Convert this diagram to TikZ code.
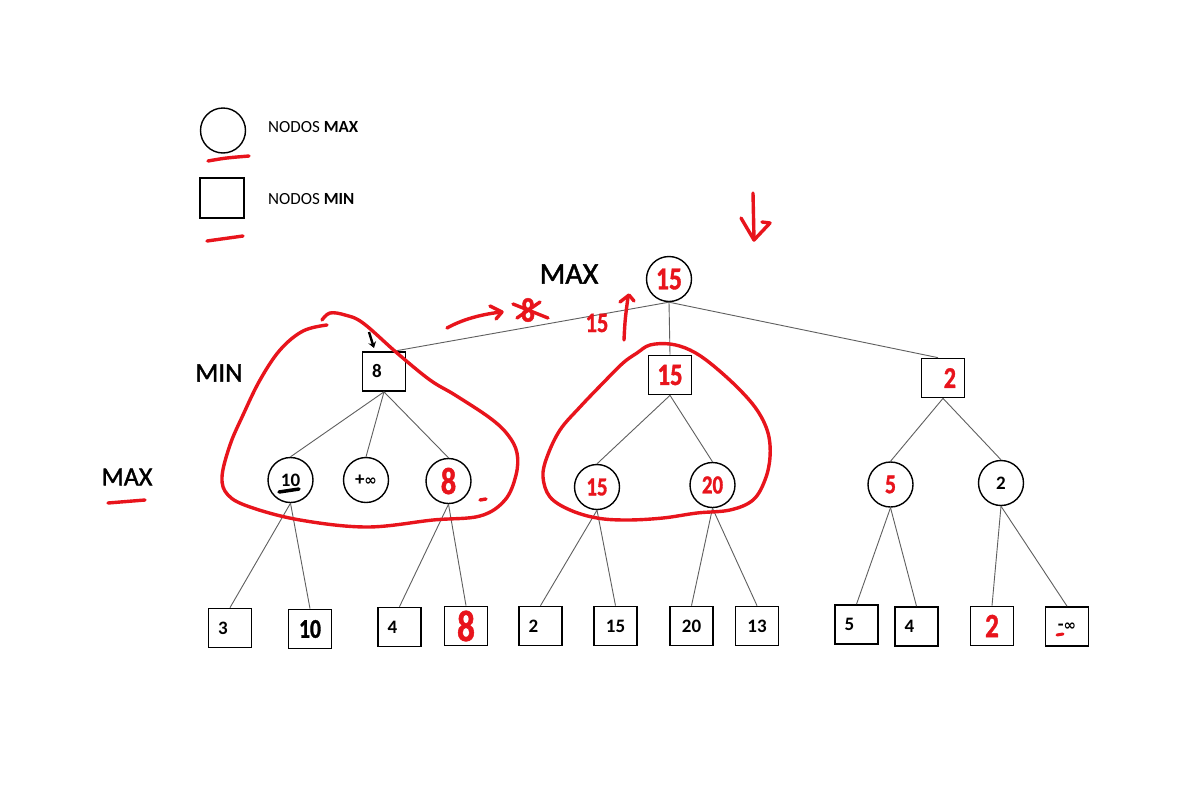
\documentclass[tikz,border=0pt]{standalone}
\usepackage{fontspec}
\setmainfont{Carlito}
\newfontfamily\handfont[FakeStretch=0.8,FakeBold=1.2]{Carlito}
\newfontfamily\labelfont[FakeBold=1.5]{Carlito}
\newfontfamily\symfont{DejaVu Sans}
\usetikzlibrary{arrows.meta}
\definecolor{hred}{HTML}{E8141C}
\definecolor{edgegray}{HTML}{5F5F5F}
\tikzset{
  maxnode/.style={circle, draw=black, line width=1.4pt, minimum size=45pt, inner sep=0pt,
    font=\fontsize{19}{21}\selectfont\bfseries},
  minnode/.style={rectangle, draw=black, line width=1.7pt, minimum width=43pt, minimum height=39pt,
    inner sep=0pt, font=\fontsize{19}{21}\selectfont\bfseries},
  lefttext/.style={text width=24pt, align=left},
  righttext/.style={text width=26pt, align=right},
  edgeline/.style={draw=edgegray, line width=0.9pt},
  redhand/.style={text=hred, font=\handfont\bfseries\fontsize{#1}{#1}\selectfont},
  blackhand/.style={text=black, font=\handfont\bfseries\fontsize{#1}{#1}\selectfont},
  handlabel/.style={text=black, inner sep=0pt, font=\labelfont\fontsize{#1}{#1}\selectfont},
  legendtext/.style={anchor=west, inner sep=0pt, font=\fontsize{17}{20}\selectfont},
  hstroke/.style={hred, line width=3.4pt, line cap=round, line join=round},
}
\begin{document}
\begin{tikzpicture}[x=1pt,y=-1pt]
\fill[white] (0,0) rectangle (1204,790);
\useasboundingbox (0,0) rectangle (1204,790);

% legend
\node[maxnode] (lgmax) at (223,130.5) {};
\node[minnode, minimum width=44pt, minimum height=40pt] (lgmin) at (222,198) {};
\node[legendtext] (lgmaxt) at (268,127) {NODOS \textbf{MAX}};
\node[legendtext] (lgmint) at (268,199) {NODOS \textbf{MIN}};
\draw[hstroke] (208,161) .. controls (225,158) .. (249,156);
\draw[hstroke] (207,241) .. controls (225,238) .. (243,236);

% tree nodes
\node[maxnode, redhand=32] (r) at (669,279) {15};
\node[minnode, lefttext] (a) at (384,371.5) {8};
\node[minnode, redhand=31] (b) at (670,375) {15};
\node[minnode, righttext, redhand=30] (c) at (943,378) {2};

\node[maxnode] (a1) at (290.5,480) {10};
\node[maxnode] (a2) at (366,480) {+{\symfont\bfseries\fontsize{15}{15}\selectfont ∞}};
\node[maxnode, redhand=38] (a3) at (448.5,481) {8};
\node[maxnode, redhand=26] (b1) at (597,487) {15};
\node[maxnode, redhand=26] (b2) at (712.5,485) {20};
\node[maxnode, redhand=27] (c1) at (890.5,484.5) {5};
\node[maxnode] (c2) at (1001,483) {2};

\node[minnode, lefttext] (l1) at (230,628) {3};
\node[minnode, blackhand=27] (l2) at (310,629) {10};
\node[minnode, lefttext] (l3) at (399.5,627) {4};
\node[minnode, redhand=44] (l4) at (466,626) {8};
\node[minnode, lefttext] (l5) at (540.5,626) {2};
\node[minnode] (l6) at (615.5,626) {15};
\node[minnode] (l7) at (691.5,626) {20};
\node[minnode] (l8) at (757,626) {13};
\node[minnode, lefttext] (l9) at (856.5,624.5) {5};
\node[minnode, lefttext] (l10) at (916.5,626.5) {4};
\node[minnode, redhand=34] (l11) at (992,626) {2};
\node[minnode] (l12) at (1067,626.5) {-{\symfont\bfseries\fontsize{15}{15}\selectfont ∞}};

% edges
\draw[edgeline] (r.south) -- ([xshift=10pt]a.north);
\draw[edgeline] (r.south) -- (b.north);
\draw[edgeline] (r.south) -- ([xshift=-5pt]c.north);
\foreach \p/\q in {a/a1, a/a2, a/a3, b/b1, b/b2, c/c1, c/c2,
  a1/l1, a1/l2, a3/l3, a3/l4, b1/l5, b1/l6, b2/l7, b2/l8, c1/l9, c1/l10, c2/l11, c2/l12}
  \draw[edgeline] (\p.south) -- (\q.north);

% level labels
\node[handlabel=30] (maxtop) at (569,274) {MAX};
\node[handlabel=27] (minlab) at (219,373) {MIN};
\node[handlabel=26] (maxlow) at (127,477) {MAX};
\draw[hstroke] (108,503) -- (145,500);

% black marks
\draw[line width=3.5pt, line cap=round] (279,492) -- (299,489);
\draw[line width=2.4pt, -{Stealth[length=6pt,width=8pt]}] (369,332) -- (374,348);

% red loops
\draw[hstroke] plot[smooth, tension=0.6] coordinates {(327,325) (303,331) (280,350) (260,380) (243,415)
  (230,445) (222,477) (228,495) (250,507) (300,520) (367,527) (433,520) (480,516) (505,500)
  (516,475) (517,453) (508,435) (490,418) (455,395) (430,380) (397,353) (363,323) (345,315)
  (330,313) (322,320)};
\draw[hstroke] plot[smooth cycle, tension=0.6] coordinates {(637,353) (650,345) (670,344) (690,350)
  (710,363) (737,387) (757,410) (768,433) (770,457) (765,480) (753,500) (730,510) (697,513)
  (663,518) (627,520) (597,518) (570,510) (550,497) (543,477) (547,457) (560,430) (580,407)
  (603,383) (623,363)};
\draw[hstroke] (480,500) -- (486,499);
\draw[hred, line width=3pt, line cap=round] (1057,635) -- (1063,634);

% red annotations at top
\draw[hstroke] (447,328) .. controls (465,318) and (485,314) .. (501,312);
\draw[hstroke] (490,306) -- (502,312) -- (496,319);
\node[redhand=34] (x8) at (528,310) {8};
\draw[hstroke] (513,304) -- (548,318);
\draw[hstroke] (517,318) -- (540,302);
\node[redhand=28] (ann15) at (597,323) {15};
\draw[hstroke] (624,340) .. controls (625,320) .. (628,297);
\draw[hstroke] (620,302) -- (629,295) -- (634,301);
\draw[hstroke] (753,193) -- (754,240);
\draw[hstroke] (741,218) -- (754,240) -- (770,223) -- (762,222);
\end{tikzpicture}
\end{document}
